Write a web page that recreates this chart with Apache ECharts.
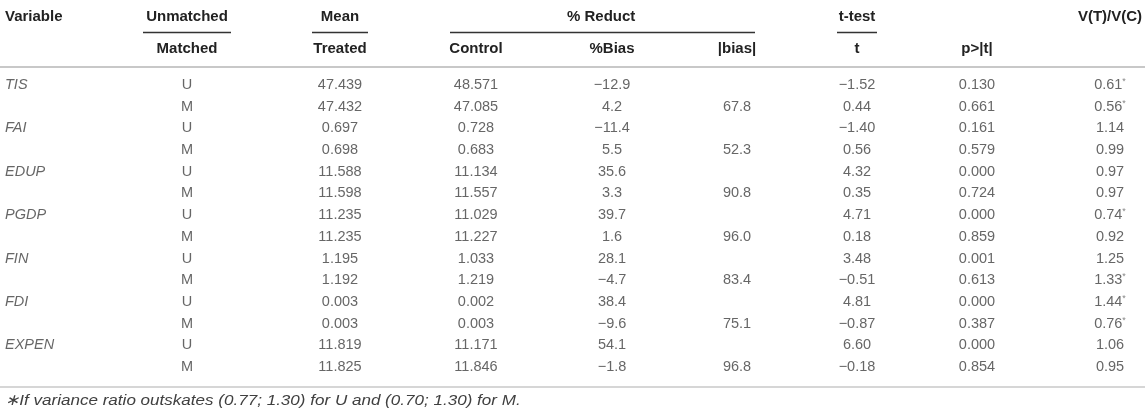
<!DOCTYPE html>
<html>
<head>
<meta charset="utf-8">
<script src="https://cdn.jsdelivr.net/npm/echarts@6/dist/echarts.min.js"></script>
<style>
  html, body { margin: 0; padding: 0; background: #fff; }
  #main { width: 1145px; height: 412px; }
</style>
</head>
<body>
<div id="main"></div>
<script>
// table contents, one row per variable x sample
var variables = ['TIS', 'FAI', 'EDUP', 'PGDP', 'FIN', 'FDI', 'EXPEN'];
var samples = ['U', 'M'];
var treated = [47.439, 47.432, 0.697, 0.698, 11.588, 11.598, 11.235, 11.235, 1.195, 1.192, 0.003, 0.003, 11.819, 11.825];
var control = [48.571, 47.085, 0.728, 0.683, 11.134, 11.557, 11.029, 11.227, 1.033, 1.219, 0.002, 0.003, 11.171, 11.846];
var pctBias = [-12.9, 4.2, -11.4, 5.5, 35.6, 3.3, 39.7, 1.6, 28.1, -4.7, 38.4, -9.6, 54.1, -1.8];
var absBias = [null, 67.8, null, 52.3, null, 90.8, null, 96.0, null, 83.4, null, 75.1, null, 96.8];
var tStat = [-1.52, 0.44, -1.40, 0.56, 4.32, 0.35, 4.71, 0.18, 3.48, -0.51, 4.81, -0.87, 6.60, -0.18];
var pValue = [0.130, 0.661, 0.161, 0.579, 0.000, 0.724, 0.000, 0.859, 0.001, 0.613, 0.000, 0.387, 0.000, 0.854];
var varRatio = [0.61, 0.56, 1.14, 0.99, 0.97, 0.97, 0.74, 0.92, 1.25, 1.33, 1.44, 0.76, 1.06, 0.95];
var ratioFlag = [1, 1, 0, 0, 0, 0, 1, 0, 0, 1, 1, 1, 0, 0];
var footnote = '\u2217If variance ratio outskates (0.77; 1.30) for U and (0.70; 1.30) for M.';

// column centres (x in px, the x axis runs 0..1145)
var colX = {
  variable: 5, sample: 187, treated: 340, control: 476,
  pctBias: 612, absBias: 737, t: 857, p: 977, ratio: 1110
};

var FONT = '"Liberation Sans", Arial, sans-serif';
var TXT = '#404040';

function fmt(v, d) {
  if (v === null || v === undefined) return '';
  return v.toFixed(d).replace('-', '\u2212');
}

var rowNames = [];
for (var i = 0; i < variables.length; i++) {
  for (var j = 0; j < samples.length; j++) rowNames.push(variables[i] + '-' + samples[j]);
}

function textSeries(x, texts, extra) {
  var label = {
    show: true,
    position: 'inside',
    align: 'center',
    verticalAlign: 'middle',
    fontFamily: FONT,
    fontSize: 14.5,
    color: TXT,
    formatter: function (p) { return p.data[2]; }
  };
  if (extra) for (var k in extra) label[k] = extra[k];
  return {
    type: 'scatter',
    symbolSize: 0,
    silent: true,
    animation: false,
    label: label,
    data: texts.map(function (t, i) { return [x, i, t]; })
  };
}

var varTexts = rowNames.map(function (r, i) { return i % 2 === 0 ? variables[i / 2] : ''; });
var sampleTexts = rowNames.map(function (r, i) { return samples[i % 2]; });

var series = [
  textSeries(colX.variable, varTexts, { align: 'left', fontStyle: 'italic' }),
  textSeries(colX.sample, sampleTexts),
  textSeries(colX.treated, treated.map(function (v) { return fmt(v, 3); })),
  textSeries(colX.control, control.map(function (v) { return fmt(v, 3); })),
  textSeries(colX.pctBias, pctBias.map(function (v) { return fmt(v, 1); })),
  textSeries(colX.absBias, absBias.map(function (v) { return fmt(v, 1); })),
  textSeries(colX.t, tStat.map(function (v) { return fmt(v, 2); })),
  textSeries(colX.p, pValue.map(function (v) { return fmt(v, 3); })),
  textSeries(colX.ratio, varRatio.map(function (v, i) {
    return '{n|' + fmt(v, 2) + '}' + (ratioFlag[i] ? '{s|*}' : '');
  }), {
    rich: {
      n: { fontFamily: FONT, fontSize: 14.5, color: TXT, lineHeight: 16 },
      s: { fontFamily: FONT, fontSize: 9, color: '#666', verticalAlign: 'top', lineHeight: 16 }
    }
  })
];

function hText(x, y, t, align) {
  return {
    type: 'text', x: x, y: y, silent: true,
    style: {
      text: t, fill: '#222', font: 'bold 15px ' + FONT,
      align: align || 'center', verticalAlign: 'middle'
    }
  };
}
function hLine(x1, x2, y, w, c) {
  return {
    type: 'line', silent: true,
    shape: { x1: x1, y1: y, x2: x2, y2: y },
    style: { stroke: c, lineWidth: w }
  };
}

var headers = [
  hText(5, 17, 'Variable', 'left'),
  hText(colX.sample, 17, 'Unmatched'),
  hText(colX.treated, 17, 'Mean'),
  hText(567, 17, '% Reduct', 'left'),
  hText(colX.t, 17, 't-test'),
  hText(colX.ratio, 17, 'V(T)/V(C)'),
  hText(colX.sample, 49, 'Matched'),
  hText(colX.treated, 49, 'Treated'),
  hText(colX.control, 49, 'Control'),
  hText(colX.pctBias, 49, '%Bias'),
  hText(colX.absBias, 49, '|bias|'),
  hText(colX.t, 49, 't'),
  hText(colX.p, 49, 'p>|t|'),
  hLine(143, 231, 32.5, 1.5, '#333'),
  hLine(312, 368, 32.5, 1.5, '#333'),
  hLine(450, 755, 32.5, 1.5, '#333'),
  hLine(837, 877, 32.5, 1.5, '#333'),
  hLine(0, 1145, 67, 2, '#c8c8c8'),
  hLine(0, 1145, 387, 1.5, '#c8c8c8'),
  {
    type: 'text', x: 5, y: 401, scaleX: 1.1, silent: true,
    style: {
      text: footnote, fill: TXT, font: 'italic 15.5px ' + FONT,
      align: 'left', verticalAlign: 'middle'
    }
  }
];

var chart = echarts.init(document.getElementById('main'), null, { renderer: 'canvas' });
var option = {
  backgroundColor: '#fff',
  animation: false,
  // 14 rows, centres from y=85 to y=367
  grid: { left: 0, right: 0, top: 74.2, bottom: 34.2 },
  xAxis: { type: 'value', min: 0, max: 1145, show: false },
  yAxis: { type: 'category', data: rowNames, inverse: true, show: false },
  graphic: headers,
  series: series
};
option && chart.setOption(option);
</script>
</body>
</html>
